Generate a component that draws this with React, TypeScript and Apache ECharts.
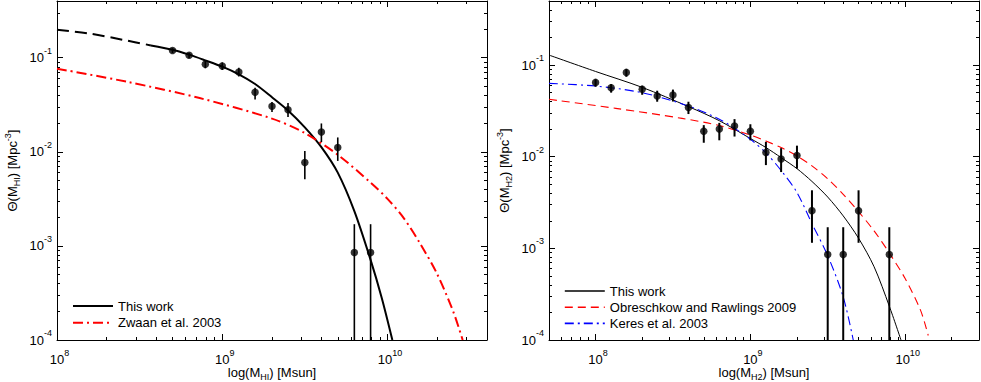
import React, { useEffect, useRef } from "react";
import * as echarts from "echarts";

const FONT = '"Liberation Sans", Arial, Helvetica, sans-serif';

// ---------- Left panel (HI) ----------
const hiXRange = [1e8, 4e10];
const hiYRange = [1e-4, 0.4];
const hiXTickExp = [8, 9, 10];
const hiYTickExp = [-4, -3, -2, -1];

const hiMass = [5.0e8, 6.3e8, 7.9e8, 1.0e9, 1.26e9, 1.58e9, 2.0e9, 2.5e9, 3.16e9, 3.98e9, 5.0e9, 6.3e9, 7.9e9];
const hiTheta = [0.119, 0.106, 0.085, 0.0815, 0.0703, 0.0428, 0.0304, 0.028, 0.00767, 0.0162, 0.0111, 0.00085, 0.00085];
const hiErrLow = [0.112, 0.099, 0.077, 0.074, 0.063, 0.036, 0.0265, 0.0234, 0.0051, 0.0127, 0.008, 0.0001, 0.0001];
const hiErrHigh = [0.126, 0.113, 0.092, 0.089, 0.078, 0.048, 0.0338, 0.033, 0.0102, 0.02, 0.0142, 0.0017, 0.0017];

const hiFitExtrapMass = [1.0e8, 1.58e8, 2.5e8, 3.7e8];
const hiFitExtrapTheta = [0.198, 0.18, 0.155, 0.135];
const hiFitMass = [3.7e8, 5.0e8, 6.3e8, 7.9e8, 1.0e9, 1.26e9, 1.58e9, 2.0e9, 2.5e9, 3.16e9, 3.98e9, 5.0e9, 6.3e9, 7.9e9, 9.23e9, 1.07e10];
const hiFitTheta = [0.135, 0.1216, 0.1076, 0.0935, 0.0802, 0.0665, 0.0525, 0.038, 0.0275, 0.0182, 0.0112, 0.006, 0.00234, 0.00071, 0.00028, 0.0001];

const zwaanMass = [1.0e8, 2.7e8, 7.3e8, 2.0e9, 3.16e9, 5.0e9, 7.9e9, 1.0e10, 1.26e10, 1.58e10, 2.0e10, 2.5e10, 2.85e10];
const zwaanTheta = [0.0764, 0.0551, 0.0372, 0.0225, 0.0158, 0.0093, 0.0047, 0.00316, 0.00195, 0.00105, 0.0005, 0.0002, 0.0001];

// ---------- Right panel (H2) ----------
const h2XRange = [5e7, 3e10];
const h2YRange = [1e-4, 0.5];
const h2XTickExp = [8, 9, 10];
const h2YTickExp = [-4, -3, -2, -1];

const h2Mass = [1.0e8, 1.26e8, 1.58e8, 2.0e8, 2.5e8, 3.16e8, 3.98e8, 5.0e8, 6.3e8, 7.9e8, 1.0e9, 1.26e9, 1.58e9, 2.0e9, 2.5e9, 3.16e9, 3.98e9, 5.0e9, 7.9e9];
const h2Theta = [0.0647, 0.0565, 0.0832, 0.0543, 0.0459, 0.0471, 0.0345, 0.019, 0.02, 0.0216, 0.019, 0.0111, 0.00944, 0.0103, 0.00258, 0.000855, 0.000855, 0.00258, 0.000855];
const h2ErrLow = [0.058, 0.05, 0.0745, 0.0474, 0.0398, 0.04, 0.0292, 0.0142, 0.0151, 0.0166, 0.0151, 0.0081, 0.0068, 0.0074, 0.00115, 0.0001, 0.0001, 0.00115, 0.0001];
const h2ErrHigh = [0.07, 0.062, 0.0904, 0.0596, 0.0525, 0.054, 0.0398, 0.0221, 0.0234, 0.0257, 0.0226, 0.0145, 0.0124, 0.0132, 0.0043, 0.0017, 0.0017, 0.0043, 0.0017];

const h2FitMass = [5e7, 1e8, 2e8, 4e8, 6.3e8, 1e9, 1.26e9, 1.58e9, 2e9, 2.5e9, 3.16e9, 3.98e9, 5e9, 6.3e9, 7.9e9, 9.4e9];
const h2FitTheta = [0.1285, 0.0851, 0.0571, 0.0351, 0.0247, 0.0158, 0.0126, 0.00977, 0.00741, 0.00537, 0.00363, 0.00226, 0.00129, 0.00063, 0.000234, 0.0001];

const obrMass = [5e7, 1.35e8, 3.62e8, 6.3e8, 1e9, 1.26e9, 1.58e9, 2e9, 2.5e9, 3.16e9, 3.98e9, 5e9, 6.3e9, 7.9e9, 1e10, 1.26e10, 1.41e10];
const obrTheta = [0.0423, 0.0337, 0.0262, 0.0219, 0.0172, 0.0148, 0.0126, 0.0102, 0.00794, 0.00575, 0.00389, 0.00251, 0.00155, 0.00089, 0.000468, 0.000209, 0.000112];

const keresMass = [5e7, 1e8, 2e8, 4e8, 6.3e8, 7.9e8, 1e9, 1.26e9, 1.58e9, 2e9, 2.5e9, 3.16e9, 3.98e9, 4.62e9];
const keresTheta = [0.0631, 0.059, 0.0499, 0.0357, 0.0257, 0.0204, 0.0155, 0.011, 0.00708, 0.00407, 0.00186, 0.000832, 0.000295, 0.0001];

// ---------- helpers ----------
const lg = (v: number) => Math.log10(v);
const pairs = (xs: number[], ys: number[]) => xs.map((x, i) => [lg(x), lg(ys[i])]);
const errTriples = (xs: number[], lo: number[], hi: number[]) => xs.map((x, i) => [lg(x), lg(lo[i]), lg(hi[i])]);

function minorTicks(min: number, max: number) {
  const out: number[] = [];
  for (let d = Math.floor(min); d <= Math.ceil(max); d++) {
    for (let k = 2; k <= 9; k++) {
      const v = d + Math.log10(k);
      if (v > min + 1e-6 && v < max - 1e-6) out.push(v);
    }
  }
  return out;
}

const labelRichX = {
  b: { fontSize: 13, lineHeight: 23, fontFamily: FONT, color: "#000", padding: [0, 0, 0, 5] },
  s: { fontSize: 9, lineHeight: 9, padding: [0, 0, 14, 0], fontFamily: FONT, color: "#000" },
};
const labelRichY = {
  b: { fontSize: 13, lineHeight: 23, fontFamily: FONT, color: "#000" },
  s: { fontSize: 9, lineHeight: 9, padding: [0, 0, 14, 0], fontFamily: FONT, color: "#000" },
};
const powFmt = (v: number) => `{b|10}{s|${Math.round(v)}}`;

const nameStyle = {
  fontFamily: FONT,
  fontSize: 13,
  color: "#000",
  lineHeight: 18,
  rich: {
    s: { fontSize: 9, lineHeight: 9, padding: [9, 0, 0, 0], fontFamily: FONT, color: "#000" },
    p: { fontSize: 9, lineHeight: 9, padding: [0, 0, 9, 0], fontFamily: FONT, color: "#000" },
  },
};

const black = { color: "#000", width: 1 };

function makeAxes(dim: "x" | "y", gridIndex: number, range: number[], tickExp: number[], name: string) {
  const min = lg(range[0]);
  const max = lg(range[1]);
  const minors = minorTicks(min, max);
  const base: any = { type: "value", gridIndex, min, max, splitLine: { show: false }, scale: false };
  const p1 = dim === "x" ? "bottom" : "left";
  const p2 = dim === "x" ? "top" : "right";
  const main: any = {
    ...base,
    position: p1,
    axisLine: { show: true, onZero: false, lineStyle: black },
    axisTick: { show: true, inside: true, length: 6, customValues: tickExp, lineStyle: black },
    axisLabel: {
      show: true,
      customValues: tickExp,
      margin: dim === "x" ? 8 : 5,
      formatter: powFmt,
      rich: dim === "x" ? labelRichX : labelRichY,
    },
    name,
    nameLocation: "middle",
    nameGap: dim === "x" ? 23 : 36,
    nameRotate: dim === "x" ? 0 : 90,
    nameTextStyle: nameStyle,
  };
  if (dim === "x") main.nameMoveOverlap = false;
  const minor1: any = {
    ...base,
    position: p1,
    axisLine: { show: false },
    axisTick: { show: true, inside: true, length: 3, customValues: minors, lineStyle: black },
    axisLabel: { show: false },
  };
  const main2: any = {
    ...base,
    position: p2,
    axisLine: { show: true, onZero: false, lineStyle: black },
    axisTick: { show: true, inside: true, length: 6, customValues: tickExp, lineStyle: black },
    axisLabel: { show: false },
  };
  const minor2: any = {
    ...base,
    position: p2,
    axisLine: { show: false },
    axisTick: { show: true, inside: true, length: 3, customValues: minors, lineStyle: black },
    axisLabel: { show: false },
  };
  return [main, minor1, main2, minor2];
}

function errorBars(data: number[][], axisIndex: number, width: number) {
  return {
    type: "custom",
    name: "errors" + axisIndex,
    xAxisIndex: axisIndex,
    yAxisIndex: axisIndex,
    data,
    encode: { x: 0, y: [1, 2] },
    z: 5,
    renderItem: (params: any, api: any) => {
      const x = api.value(0);
      const a = api.coord([x, api.value(1)]);
      const b = api.coord([x, api.value(2)]);
      return {
        type: "line",
        shape: { x1: a[0], y1: a[1], x2: b[0], y2: b[1] },
        style: { stroke: "#000", lineWidth: width },
      };
    },
  };
}

function points(data: number[][], axisIndex: number) {
  return {
    type: "scatter",
    name: "points" + axisIndex,
    xAxisIndex: axisIndex,
    yAxisIndex: axisIndex,
    data,
    symbol: "circle",
    symbolSize: 7.5,
    itemStyle: { color: "#000" },
    z: 6,
  };
}

function curve(name: string, data: number[][], axisIndex: number, color: string, width: number, type: any) {
  return {
    type: "line",
    name,
    xAxisIndex: axisIndex,
    yAxisIndex: axisIndex,
    data,
    symbol: "none",
    smooth: 0.3,
    color,
    itemStyle: { color },
    lineStyle: { color, width, type },
    z: 3,
  };
}

export default function App() {
  const ref = useRef<HTMLDivElement>(null);
  useEffect(() => {
    if (!ref.current) return;
    const chart = echarts.init(ref.current, null, { renderer: "svg" });
    const xAxes = [
      ...makeAxes("x", 0, hiXRange, hiXTickExp, "log(M{s|HI}) [Msun]"),
      ...makeAxes("x", 1, h2XRange, h2XTickExp, "log(M{s|H2}) [Msun]"),
    ];
    const yAxes = [
      ...makeAxes("y", 0, hiYRange, hiYTickExp, "\u0398(M{s|HI}) [Mpc{p|-3}]"),
      ...makeAxes("y", 1, h2YRange, h2YTickExp, "\u0398(M{s|H2}) [Mpc{p|-3}]"),
    ];
    const legendText = { fontFamily: FONT, fontSize: 13, color: "#000", lineHeight: 14 };
    const legendItem = { color: "rgba(0,0,0,0)", borderWidth: 0, opacity: 0 };
    chart.setOption({
      animation: false,
      backgroundColor: "#fff",
      grid: [
        { left: 57, width: 430, top: 1, height: 339, containLabel: false, outerBoundsMode: "none" },
        { left: 549, width: 430, top: 1, height: 339, containLabel: false, outerBoundsMode: "none" },
      ],
      xAxis: xAxes,
      yAxis: yAxes,
      legend: [
        {
          data: ["This work", "Zwaan et al. 2003"],
          orient: "vertical",
          left: 72,
          top: 299,
          padding: 0,
          itemWidth: 40,
          itemHeight: 14,
          itemGap: 2.7,
          selectedMode: false,
          textStyle: legendText,
          itemStyle: legendItem,
          lineStyle: { width: 2 },
        },
        {
          data: ["This work", "Obreschkow and Rawlings 2009", "Keres et al. 2003"],
          orient: "vertical",
          left: 564,
          top: 284,
          padding: 0,
          itemWidth: 40,
          itemHeight: 14,
          itemGap: 2.2,
          selectedMode: false,
          textStyle: legendText,
          itemStyle: legendItem,
          lineStyle: { width: 1.6 },
        },
      ],
      series: [
        curve("This work", pairs(hiFitMass, hiFitTheta), 0, "#000", 2, "solid"),
        curve("This work (extrapolated)", pairs(hiFitExtrapMass, hiFitExtrapTheta), 0, "#000", 2, [12, 6]),
        curve("Zwaan et al. 2003", pairs(zwaanMass, zwaanTheta), 0, "#ff0000", 2, [10, 4, 2, 4]),
        errorBars(errTriples(hiMass, hiErrLow, hiErrHigh), 0, 1.6),
        points(pairs(hiMass, hiTheta), 0),

        curve("This work", pairs(h2FitMass, h2FitTheta), 4, "#000", 1, "solid"),
        curve("Obreschkow and Rawlings 2009", pairs(obrMass, obrTheta), 4, "#ff0000", 1.1, [8, 5]),
        curve("Keres et al. 2003", pairs(keresMass, keresTheta), 4, "#0000ff", 1.1, [9, 4, 2, 4]),
        errorBars(errTriples(h2Mass, h2ErrLow, h2ErrHigh), 4, 2),
        points(pairs(h2Mass, h2Theta), 4),
      ],
    });
    return () => chart.dispose();
  }, []);
  return (
    <div
      ref={ref}
      style={{ position: "absolute", left: 0, top: 0, width: 981, height: 382, background: "#fff" }}
    />
  );
}
